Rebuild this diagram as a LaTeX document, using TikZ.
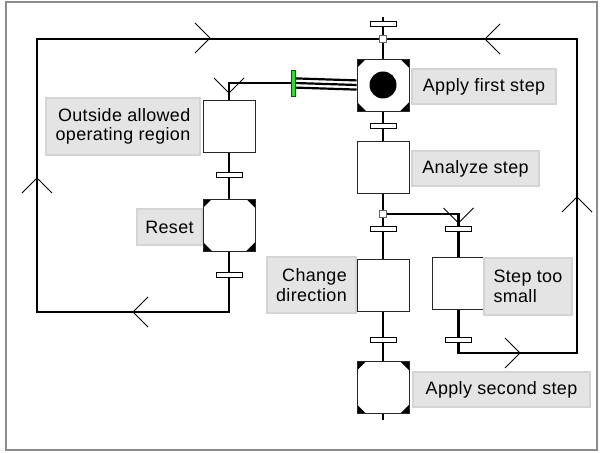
\documentclass[tikz,border=0pt]{standalone}
\usepackage{fontspec}
\newfontfamily\lblfont[LetterSpace=2]{Liberation Sans}
\usetikzlibrary{backgrounds}
\definecolor{gbar}{RGB}{40,225,40}
\definecolor{lblfill}{RGB}{228,228,228}
\definecolor{lblline}{RGB}{212,212,212}
\begin{document}
\begin{tikzpicture}[x=1bp,y=-1bp,
  conn/.style={line width=2.6bp, black},
  chev/.style={line width=0.9bp, black},
  stepbox/.style={draw=black!85, line width=0.8bp, fill=white, minimum width=52bp, minimum height=52bp, inner sep=0pt},
  initstep/.style={stepbox, fill=black, path picture={
     \fill[white] ([xshift=-17bp,yshift=26bp]path picture bounding box.center)
       -- ([xshift=17bp,yshift=26bp]path picture bounding box.center)
       -- ([xshift=26bp,yshift=17bp]path picture bounding box.center)
       -- ([xshift=26bp,yshift=-17bp]path picture bounding box.center)
       -- ([xshift=17bp,yshift=-26bp]path picture bounding box.center)
       -- ([xshift=-17bp,yshift=-26bp]path picture bounding box.center)
       -- ([xshift=-26bp,yshift=-17bp]path picture bounding box.center)
       -- ([xshift=-26bp,yshift=17bp]path picture bounding box.center) -- cycle;}},
  trans/.style={draw=black, line width=0.8bp, fill=white, minimum width=26bp, minimum height=5bp, inner sep=0pt},
  junc/.style={draw=black!60, line width=0.8bp, fill=white, minimum size=7bp, inner sep=0pt},
  lbl/.style={draw=lblline, line width=1.5bp, fill=lblfill, inner sep=0pt, text=black,
     font=\lblfont\fontsize{18}{19.5}\selectfont},
]
\useasboundingbox (0,0) rectangle (601,453);

% steps
\node[initstep] (fs) at (383,85) {};
\node[circle, fill=black, minimum size=27bp, inner sep=0pt] (tok) at (fs) {};
\node[stepbox] (an) at (383,167.5) {};
\node[stepbox] (cd) at (383,285.5) {};
\node[stepbox] (st) at (458.5,283.5) {};
\node[initstep] (ss) at (383,387.5) {};
\node[stepbox] (ou) at (229,126.5) {};
\node[initstep] (rs) at (229,225) {};

% transitions
\node[trans] (t0) at (383,24) {};
\node[trans] (t1) at (383,126) {};
\node[trans] (t2a) at (383,229) {};
\node[trans] (t2b) at (458.5,229) {};
\node[trans] (t3a) at (383,340) {};
\node[trans] (t3b) at (458.5,340) {};
\node[trans] (t4) at (229,175) {};
\node[trans] (t5) at (229,275) {};

% junctions
\node[junc] (j1) at (383,39) {};
\node[junc] (j2) at (383,214) {};

% green bar
\node[draw=green!35!black, fill=gbar, line width=0.6bp, minimum width=4bp, minimum height=26bp, inner sep=0pt] (gb) at (293,83) {};

% labels
\node[lbl, minimum width=144bp, minimum height=35bp] (fsl) at (484,86.5) {Apply first step};
\node[lbl, minimum width=127bp, minimum height=35bp] (anl) at (475.5,168.5) {Analyze step};
\node[lbl, minimum width=154bp, minimum height=57bp, align=right] (oul) at (123,126.5) {Outside allowed\\operating region};
\node[lbl, minimum width=65bp, minimum height=36bp] (rsl) at (169.5,227) {Reset};
\node[lbl, minimum width=89bp, minimum height=56bp, align=right] (cdl) at (311.5,285) {Change\\direction};
\node[lbl, minimum width=88bp, minimum height=57bp, align=left] (stl) at (528,286.5) {Step too\\small};
\node[lbl, minimum width=177bp, minimum height=35bp] (ssl) at (501.5,389.5) {Apply second step};

\coordinate (top) at (383,17);
\coordinate (bot) at (383,420);
\coordinate (lbl) at (37,312);
\coordinate (rbr) at (577,353);

\begin{scope}[on background layer]
  \fill[white] (0,0) rectangle (601,453);
  \draw[draw=black!45, line width=1.8bp] (6,2) rectangle (597,450);
  % main column
  \draw[conn] (top) -- (j1.north);
  \draw[conn] (j1.south) -- (fs.north);
  \draw[conn] (fs.south) -- (an.north);
  \draw[conn] (an.south) -- (j2.north);
  \draw[conn] (j2.south) -- (cd.north);
  \draw[conn] (j2.east) -| (st.north);
  \draw[conn] (cd.south) -- (ss.north);
  \draw[conn] (ss.south) -- (bot);
  % left column
  \draw[conn] (gb.west) -| (ou.north);
  \draw[conn] (ou.south) -- (rs.north);
  \draw[conn] (rs.south) |- (lbl) |- (j1.west);
  % right loop
  \draw[conn] (st.south) |- (rbr) |- (j1.east);
  % triple link
  \draw[line width=2.2bp] ([yshift=4.6bp]gb.east) -- ([yshift=4.6bp]fs.west);
  \draw[line width=2.2bp] (gb.east) -- (fs.west);
  \draw[line width=2.2bp] ([yshift=-4.6bp]gb.east) -- ([yshift=-4.6bp]fs.west);
\end{scope}

% direction chevrons
\draw[chev] (195,23) -- (210,38) -- (195,53);
\draw[chev] (500,24) -- (485,39) -- (500,54);
\draw[chev] (22,193) -- (37,178) -- (52,193);
\draw[chev] (562,212) -- (577,197) -- (592,212);
\draw[chev] (148,297) -- (133,312) -- (148,327);
\draw[chev] (505,338) -- (520,353) -- (505,368);
\draw[chev] (214,78) -- (229,93) -- (244,78);
\draw[chev] (443.5,208) -- (458.5,223) -- (473.5,208);
\end{tikzpicture}
\end{document}
